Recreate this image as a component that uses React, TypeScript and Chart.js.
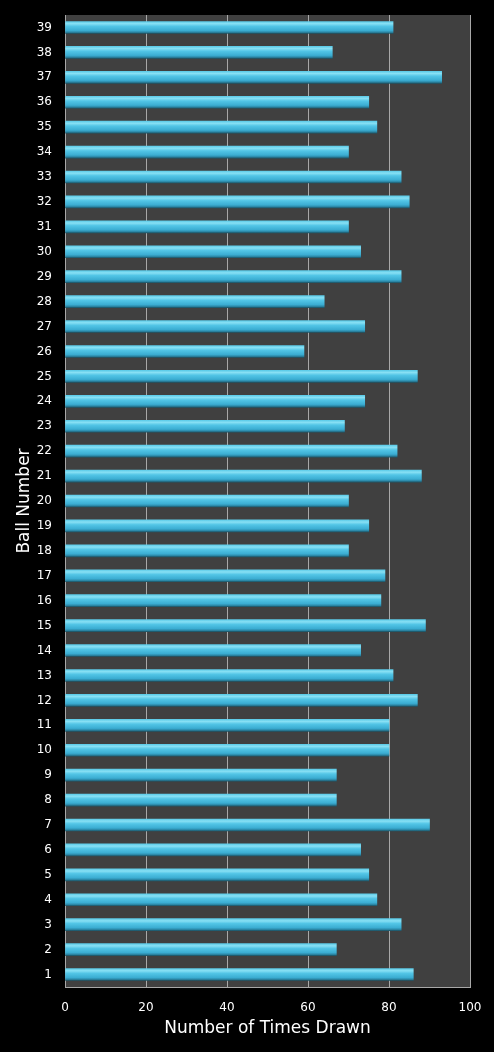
import { useEffect, useRef } from "react";
import { Chart, registerables } from "chart.js";

Chart.register(...registerables);

// ball numbers, bottom to top
const balls = [
  "1", "2", "3", "4", "5", "6", "7", "8", "9", "10",
  "11", "12", "13", "14", "15", "16", "17", "18", "19", "20",
  "21", "22", "23", "24", "25", "26", "27", "28", "29", "30",
  "31", "32", "33", "34", "35", "36", "37", "38", "39",
];
// times drawn per ball
const timesDrawn = [
  86, 67, 83, 77, 75, 73, 90, 67, 67, 80,
  80, 87, 81, 73, 89, 78, 79, 70, 75, 70,
  88, 82, 69, 74, 87, 59, 74, 64, 83, 73,
  70, 85, 83, 70, 77, 75, 93, 66, 81,
];
const xTicks = [0, 20, 40, 60, 80, 100];

const FONT = "'DejaVu Sans', Verdana, sans-serif";

export default function App() {
  const ref = useRef<HTMLCanvasElement | null>(null);

  useEffect(() => {
    document.body.style.margin = "0";
    document.body.style.background = "#000";
    if (!ref.current) return;
    const ctx = ref.current.getContext("2d");
    if (!ctx) return;

    // black page + dark grey plot area
    const bg = {
      id: "bg",
      beforeDraw: (c: Chart) => {
        const g = c.ctx;
        const { left, right, top, bottom } = c.chartArea;
        g.save();
        g.fillStyle = "#000";
        g.fillRect(0, 0, c.width, c.height);
        g.fillStyle = "#404040";
        g.fillRect(left, top, right - left, bottom - top);
        g.restore();
      },
    };

    // bar shading: glossy cyan tube look
    const barFill = (c: any) => {
      const chart = c.chart as Chart;
      const y = chart.scales.y;
      if (!y || c.dataIndex === undefined) return "#4bc0e0";
      const py = y.getPixelForValue(c.dataIndex);
      if (!Number.isFinite(py)) return "#4bc0e0";
      const grad = chart.ctx.createLinearGradient(0, py - 6, 0, py + 6);
      grad.addColorStop(0, "#5ccbe8");
      grad.addColorStop(0.18, "#88e0f4");
      grad.addColorStop(0.4, "#52c5e6");
      grad.addColorStop(0.75, "#3badd2");
      grad.addColorStop(0.9, "#2b87a6");
      grad.addColorStop(1, "#1d5668");
      return grad;
    };

    const chart = new Chart(ctx, {
      type: "bar",
      data: {
        labels: balls,
        datasets: [
          {
            data: timesDrawn,
            backgroundColor: barFill,
            borderWidth: 0,
            barThickness: 12,
          },
        ],
      },
      options: {
        indexAxis: "y",
        animation: false,
        responsive: true,
        maintainAspectRatio: false,
        layout: { padding: { left: 0, right: 24, top: 15, bottom: 0 } },
        plugins: { legend: { display: false }, tooltip: { enabled: false } },
        scales: {
          x: {
            min: 0,
            max: 100,
            afterBuildTicks: (s: any) => {
              s.ticks = xTicks.map((v) => ({ value: v }));
            },
            afterFit: (s: any) => {
              s.height = 65;
              s.paddingLeft = 0;
              s.paddingRight = 0;
            },
            grid: { color: "#a8a8a8", lineWidth: 1, drawTicks: false },
            border: { display: true, color: "#a8a8a8" },
            ticks: { color: "#fff", padding: 14, font: { family: FONT, size: 12 } },
            title: {
              display: true,
              text: "Number of Times Drawn",
              color: "#fff",
              font: { family: FONT, size: 17 },
              padding: { top: 0, bottom: 13 },
            },
          },
          y: {
            reverse: true,
            afterFit: (s: any) => {
              s.width = 65;
              s.paddingTop = 0;
              s.paddingBottom = 0;
            },
            grid: { display: false, drawTicks: false },
            border: { display: true, color: "#a8a8a8" },
            ticks: { color: "#fff", padding: 13, font: { family: FONT, size: 12 } },
            title: {
              display: true,
              text: "Ball Number",
              color: "#fff",
              font: { family: FONT, size: 17 },
              padding: { top: 14, bottom: 0 },
            },
          },
        },
      },
      plugins: [bg],
    });

    return () => chart.destroy();
  }, []);

  return (
    <div style={{ width: 494, height: 1052, background: "#000" }}>
      <canvas ref={ref} />
    </div>
  );
}
